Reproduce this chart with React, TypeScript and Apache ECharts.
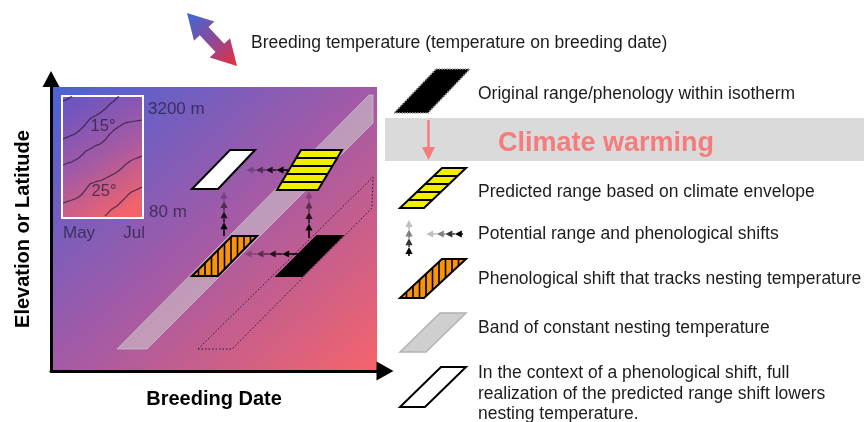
import React, { useEffect, useRef } from "react";
import * as echarts from "echarts";

const FONT = "'Liberation Sans', Arial, Helvetica, sans-serif";

// ---------- texts ----------
const titleText = "Breeding temperature (temperature on breeding date)";
const xAxisTitle = "Breeding Date";
const yAxisTitle = "Elevation or Latitude";
const insetElevationLabels = ["3200 m", "80 m"];
const insetMonthLabels = ["May", "Jul"];
const insetIsothermLabels = ["15°", "25°"];
const warmingLabel = "Climate warming";
const legendLabels = [
  "Original range/phenology within isotherm",
  "Predicted range based on climate envelope",
  "Potential range and phenological shifts",
  "Phenological shift that tracks nesting temperature",
  "Band of constant nesting temperature",
  "In the context of a phenological shift, full\nrealization of the predicted range shift lowers\nnesting temperature.",
];

// ---------- main panel shapes (x = breeding date units, y = elevation units) ----------
const bandOfConstantTemp = [[64, 23], [94, 23], [320, 249], [320, 277], [316, 277]];
const shiftedBand = [[145, 23], [179, 23], [319, 164], [320, 195]];
const fullRangeShiftBox = [[139, 183], [165, 183], [202, 222], [177, 222]];
const predictedRangeBox = [[224, 182], [265, 182], [289, 222], [248, 222]];
const phenologicalShiftBox = [[139, 96], [165, 96], [204, 136], [179, 136]];
const originalRangeBox = [[224, 96], [249, 96], [289, 136], [264, 136]];
const panelShapes = [
  bandOfConstantTemp,
  shiftedBand,
  fullRangeShiftBox,
  predictedRangeBox,
  phenologicalShiftBox,
  originalRangeBox,
];

// shifts (start -> end)
const phenoShiftUpper = [[237, 202], [192, 202]];
const phenoShiftLower = [[246, 118], [190, 118]];
const rangeShiftLeft = [[171, 136], [171, 182]];
const rangeShiftRight = [[256, 134], [256, 182]];
const panelArrows = [phenoShiftUpper, phenoShiftLower, rangeShiftLeft, rangeShiftRight];

// ---------- inset (x: May..Jul, y: 80 m..3200 m) isotherm contours ----------
const contour1 = [[1, 117], [6, 119], [10, 122]];
const contour2 = [[1, 79], [8, 82], [13, 84], [19, 89], [23, 93], [28, 99], [33, 102], [38, 105], [43, 109], [48, 114], [53, 118], [57, 122]];
const contour3 = [[1, 53], [6, 55], [10, 56], [15, 59], [18, 61], [23, 66], [26, 68], [30, 70], [33, 72], [38, 74], [43, 78], [47, 83], [51, 87], [55, 90], [58, 92], [63, 95], [68, 96], [74, 97], [80, 98]];
const contour4 = [[1, 15], [7, 17], [13, 19], [18, 22], [21, 25], [25, 30], [28, 34], [33, 36], [40, 38], [48, 42], [55, 46], [60, 50], [63, 53], [67, 56], [70, 58], [75, 60], [80, 62]];
const contour5 = [[43, 2], [47, 6], [50, 9], [55, 12], [58, 15], [63, 20], [68, 25], [74, 28], [80, 31]];
const contours = [contour1, contour2, contour3, contour4, contour5];

// ---------- helpers ----------
type Pt = number[];

function parallelogramEls(pts: Pt[], st: any, z?: number) {
  const els: any[] = [];
  const zz = z === undefined ? {} : { z };
  els.push({ type: "polygon", ...zz, silent: true, shape: { points: pts }, style: { fill: st.fill, stroke: null } });
  if (st.stripes === "h" && pts.length === 4) {
    const [bl, br, tr, tl] = pts;
    for (const f of [0.2, 0.4, 0.6, 0.8]) {
      const a = [bl[0] + (tl[0] - bl[0]) * f, bl[1] + (tl[1] - bl[1]) * f];
      const b = [br[0] + (tr[0] - br[0]) * f, br[1] + (tr[1] - br[1]) * f];
      els.push({ type: "line", ...zz, silent: true, shape: { x1: a[0], y1: a[1], x2: b[0], y2: b[1] }, style: { stroke: "#000", lineWidth: 2 } });
    }
  }
  if (st.stripes === "v" && pts.length === 4) {
    const [bl, br, tr, tl] = pts;
    const s = tl[0] - bl[0];
    const step = 6.5;
    for (let c = bl[0] + step; c < tr[0] - 1; c += step) {
      const tmin = Math.max(0, (c - br[0]) / s);
      const tmax = Math.min(1, (c - bl[0]) / s);
      if (tmax - tmin > 0.03) {
        const y1 = bl[1] + (tl[1] - bl[1]) * tmin;
        const y2 = bl[1] + (tl[1] - bl[1]) * tmax;
        els.push({ type: "line", ...zz, silent: true, shape: { x1: c, y1, x2: c, y2 }, style: { stroke: "#000", lineWidth: 1.6 } });
      }
    }
  }
  els.push({
    type: "polygon",
    ...zz,
    silent: true,
    shape: { points: pts },
    style: { fill: "none", stroke: st.stroke, lineWidth: st.lineWidth, lineDash: st.lineDash || null, lineJoin: "miter" },
  });
  return els;
}

function arrowEls(S: Pt, E: Pt, fracs: number[], alphas: number[], z?: number, headLen = 7, headHalf = 3.6, width = 1.6) {
  const zz = z === undefined ? {} : { z };
  const dx = E[0] - S[0];
  const dy = E[1] - S[1];
  const L = Math.hypot(dx, dy);
  const u = [dx / L, dy / L];
  const n = [-u[1], u[0]];
  const els: any[] = [];
  let prev = S;
  fracs.forEach((f, i) => {
    const tip = [S[0] + dx * f, S[1] + dy * f];
    const base = [tip[0] - u[0] * headLen, tip[1] - u[1] * headLen];
    const c = `rgba(0,0,0,${alphas[i]})`;
    els.push({ type: "line", ...zz, silent: true, shape: { x1: prev[0], y1: prev[1], x2: base[0], y2: base[1] }, style: { stroke: c, lineWidth: width } });
    els.push({
      type: "polygon",
      ...zz,
      silent: true,
      shape: { points: [tip, [base[0] + n[0] * headHalf, base[1] + n[1] * headHalf], [base[0] - n[0] * headHalf, base[1] - n[1] * headHalf]] },
      style: { fill: c },
    });
    prev = tip;
  });
  return els;
}

function doubleArrowPoints(A: Pt, B: Pt, headLen: number, headHalf: number, shaftHalf: number) {
  const dx = B[0] - A[0];
  const dy = B[1] - A[1];
  const L = Math.hypot(dx, dy);
  const u = [dx / L, dy / L];
  const n = [-u[1], u[0]];
  const tw: number[][] = [
    [0, 0], [headLen, headHalf], [headLen, shaftHalf], [L - headLen, shaftHalf], [L - headLen, headHalf],
    [L, 0], [L - headLen, -headHalf], [L - headLen, -shaftHalf], [headLen, -shaftHalf], [headLen, -headHalf],
  ];
  return tw.map(([t, w]) => [A[0] + u[0] * t + n[0] * w, A[1] + u[1] * t + n[1] * w]);
}

const panelShapeStyles = [
  { fill: "rgba(208,208,208,0.55)", stroke: "rgba(200,200,200,0.7)", lineWidth: 1 },
  { fill: "none", stroke: "rgba(20,10,30,0.85)", lineWidth: 1, lineDash: [1.5, 2] },
  { fill: "#ffffff", stroke: "#000", lineWidth: 2 },
  { fill: "#f2ee00", stroke: "#000", lineWidth: 2, stripes: "h" },
  { fill: "#f7930f", stroke: "#000", lineWidth: 2, stripes: "v" },
  { fill: "#000", stroke: "#000", lineWidth: 2 },
];

const arrowFracs = [0.3, 0.54, 0.76, 0.97];
const arrowAlphas = [1, 0.8, 0.5, 0.25];

export default function App() {
  const ref = useRef<HTMLDivElement>(null);

  useEffect(() => {
    if (!ref.current) return;
    const chart = echarts.init(ref.current, undefined, { renderer: "svg" });

    const textColor = "#1c1c1c";
    const insetText = "rgba(40,25,60,0.72)";
    const g: any[] = [];

    // main panel background
    g.push({
      type: "rect",
      z: 0,
      silent: true,
      shape: { x: 52, y: 87, width: 325, height: 284 },
      style: {
        fill: {
          type: "linear", x: 0, y: 0, x2: 1, y2: 1,
          colorStops: [
            { offset: 0, color: "#4a62d6" },
            { offset: 0.5, color: "#a35aa6" },
            { offset: 1, color: "#f6646a" },
          ],
        },
      },
    });
    // inset
    g.push({
      type: "rect",
      z: 1,
      silent: true,
      shape: { x: 62, y: 96, width: 81, height: 122 },
      style: {
        fill: {
          type: "linear", x: 0.3, y: 0, x2: 0.7, y2: 1,
          colorStops: [
            { offset: 0, color: "#6e55c0" },
            { offset: 0.5, color: "#a55aa4" },
            { offset: 1, color: "#f4636a" },
          ],
        },
        stroke: "#ffffff",
        lineWidth: 2,
      },
    });
    const insetTexts: [string, number, number, string][] = [
      [insetElevationLabels[0], 148, 108, "left"],
      [insetElevationLabels[1], 149, 211, "left"],
      [insetMonthLabels[0], 63, 232, "left"],
      [insetMonthLabels[1], 145, 232, "right"],
    ];
    insetTexts.forEach(([t, x, y, al]) =>
      g.push({ type: "text", z: 4, silent: true, x, y, style: { text: t, fill: insetText, fontSize: 17, fontFamily: FONT, align: al, verticalAlign: "middle" } })
    );
    g.push({ type: "text", z: 4, silent: true, x: 103, y: 125, style: { text: insetIsothermLabels[0], fill: insetText, fontSize: 16.5, fontFamily: FONT, align: "center", verticalAlign: "middle" } });
    g.push({ type: "text", z: 4, silent: true, x: 104, y: 190, style: { text: insetIsothermLabels[1], fill: insetText, fontSize: 16.5, fontFamily: FONT, align: "center", verticalAlign: "middle" } });

    // title double arrow
    g.push({
      type: "polygon",
      z: 4,
      silent: true,
      shape: { points: doubleArrowPoints([187, 13], [237, 66], 25, 14, 6) },
      style: {
        fill: {
          type: "linear", x: 0, y: 0, x2: 1, y2: 1,
          colorStops: [
            { offset: 0, color: "#3a6ad8" },
            { offset: 0.5, color: "#8a4a9a" },
            { offset: 1, color: "#ea2e3a" },
          ],
        },
      },
    });
    g.push({ type: "text", z: 4, silent: true, x: 251, y: 42, style: { text: titleText, fill: textColor, fontSize: 17.5, fontFamily: FONT, align: "left", verticalAlign: "middle" } });

    // climate warming band
    g.push({ type: "rect", z: 1, silent: true, shape: { x: 385, y: 118, width: 479, height: 43 }, style: { fill: "#dadada" } });
    g.push({ type: "line", z: 4, silent: true, shape: { x1: 428.5, y1: 120, x2: 428.5, y2: 148 }, style: { stroke: "#f47c7c", lineWidth: 2.5 } });
    g.push({ type: "polygon", z: 4, silent: true, shape: { points: [[428.5, 160], [422, 147], [435, 147]] }, style: { fill: "#f47c7c" } });
    g.push({ type: "text", z: 4, silent: true, x: 498, y: 142, style: { text: warmingLabel, fill: "#f47c7c", fontSize: 27, fontWeight: "bold", fontFamily: FONT, align: "left", verticalAlign: "middle" } });

    // legend icons
    parallelogramEls([[394, 113], [428, 113], [470, 69], [436, 69]], { fill: "#000", stroke: "#9a9a9a", lineWidth: 2, lineDash: [1, 1.6] }, 4).forEach((e) => g.push(e));
    parallelogramEls([[400, 208], [424, 208], [466, 168], [442, 168]], panelShapeStyles[3], 4).forEach((e) => g.push(e));
    arrowEls([409, 256], [409, 218], [0.24, 0.47, 0.7, 0.95], arrowAlphas, 4).forEach((e) => g.push(e));
    arrowEls([463, 234], [422, 234], [0.2, 0.43, 0.64, 0.9], arrowAlphas, 4).forEach((e) => g.push(e));
    parallelogramEls([[400, 298], [424, 298], [466, 259], [442, 259]], panelShapeStyles[4], 4).forEach((e) => g.push(e));
    parallelogramEls([[400, 352], [426, 352], [466, 313], [440, 313]], { fill: "#cfcfcf", stroke: "#b3b3b3", lineWidth: 1.5 }, 4).forEach((e) => g.push(e));
    parallelogramEls([[400, 407], [425, 407], [466, 367], [441, 367]], panelShapeStyles[2], 4).forEach((e) => g.push(e));

    const legendY = [93, 191, 233, 278, 327];
    legendY.forEach((y, i) =>
      g.push({ type: "text", z: 4, silent: true, x: 478, y, style: { text: legendLabels[i], fill: textColor, fontSize: 17.5, fontFamily: FONT, align: "left", verticalAlign: "middle" } })
    );
    g.push({ type: "text", z: 4, silent: true, x: 478, y: 362, style: { text: legendLabels[5], fill: textColor, fontSize: 17.5, lineHeight: 20.5, fontFamily: FONT, align: "left", verticalAlign: "top" } });

    const hiddenAxis = { show: false };
    const option: any = {
      animation: false,
      grid: [
        { left: 51, top: 87, width: 326, height: 284, containLabel: false },
        { left: 62, top: 96, width: 81, height: 122, containLabel: false },
      ],
      xAxis: [
        {
          gridIndex: 0,
          type: "value",
          min: -2,
          max: 324,
          z: 10,
          axisLine: { show: true, onZero: false, lineStyle: { color: "#000", width: 3 }, symbol: ["none", "triangle"], symbolSize: [19, 17], symbolOffset: [0, 8] },
          axisTick: { show: false },
          axisLabel: { show: false },
          splitLine: { show: false },
          name: xAxisTitle,
          nameLocation: "middle",
          nameGap: 17,
          nameTextStyle: { fontSize: 20, fontWeight: "bold", color: "#000", fontFamily: FONT },
        },
        { gridIndex: 1, type: "value", min: 0, max: 81, ...hiddenAxis },
      ],
      yAxis: [
        {
          gridIndex: 0,
          type: "value",
          min: 1,
          max: 285,
          z: 10,
          axisLine: { show: true, onZero: false, lineStyle: { color: "#000", width: 3 }, symbol: ["none", "triangle"], symbolSize: [17, 16], symbolOffset: [0, 8] },
          axisTick: { show: false },
          axisLabel: { show: false },
          splitLine: { show: false },
          name: yAxisTitle,
          nameLocation: "middle",
          nameGap: 19,
          nameTextStyle: { fontSize: 20, fontWeight: "bold", color: "#000", fontFamily: FONT },
        },
        { gridIndex: 1, type: "value", min: 0, max: 122, ...hiddenAxis },
      ],
      graphic: { elements: g },
      series: [
        ...contours.map((c) => ({
          type: "line",
          xAxisIndex: 1,
          yAxisIndex: 1,
          data: c,
          z: 3,
          silent: true,
          symbol: "none",
          smooth: 0.25,
          lineStyle: { color: "rgba(40,25,60,0.75)", width: 1.2 },
        })),
        {
          type: "custom",
          xAxisIndex: 0,
          yAxisIndex: 0,
          z: 5,
          silent: true,
          data: panelShapes.map((p, i) => [p[0][0], p[0][1], i]),
          renderItem: (params: any, api: any) => {
            const i = params.dataIndex;
            const pts = panelShapes[i].map((p) => api.coord(p));
            return { type: "group", children: parallelogramEls(pts, panelShapeStyles[i]) };
          },
        },
        {
          type: "custom",
          xAxisIndex: 0,
          yAxisIndex: 0,
          z: 6,
          silent: true,
          data: panelArrows.map((a, i) => [a[0][0], a[0][1], i]),
          renderItem: (params: any, api: any) => {
            const a = panelArrows[params.dataIndex];
            const S = api.coord(a[0]);
            const E = api.coord(a[1]);
            return { type: "group", children: arrowEls(S, E, arrowFracs, arrowAlphas) };
          },
        },
      ],
    };

    chart.setOption(option);
    return () => chart.dispose();
  }, []);

  return <div ref={ref} style={{ position: "fixed", left: 0, top: 0, width: 864, height: 422 }} />;
}
